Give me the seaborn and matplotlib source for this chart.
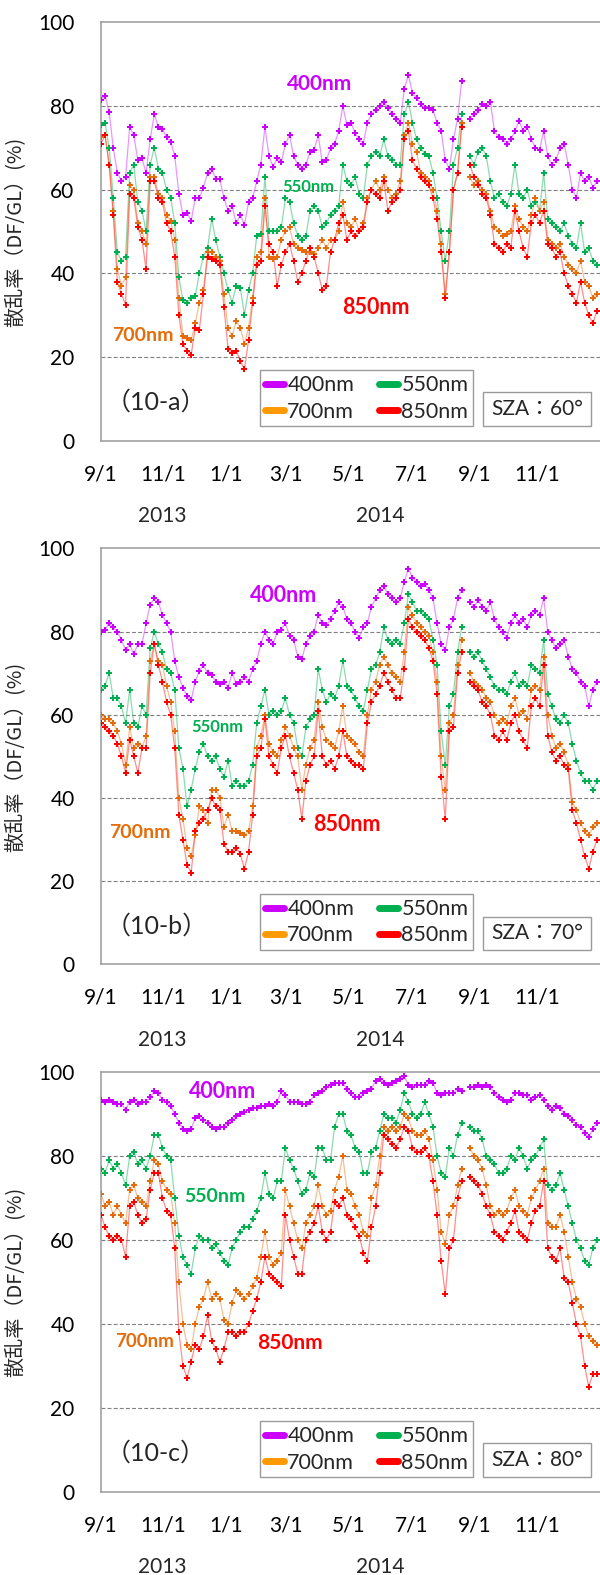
import numpy as np
import pandas as pd
import matplotlib
matplotlib.use("Agg")
import matplotlib.pyplot as plt
import matplotlib.dates as mdates
from matplotlib.lines import Line2D
from matplotlib.patches import Rectangle
from matplotlib.ticker import FuncFormatter
import seaborn as sns

sns.set_theme(style="white")
plt.rcParams["font.family"] = ["Lato", "Noto Sans CJK JP", "DejaVu Sans"]

nan = np.nan

# sampling dates (every 4 days), 2013-09-01 .. 2014-12-29
dates = pd.date_range("2013-09-01", periods=122, freq="4D")

wavelengths = ["400nm", "550nm", "700nm", "850nm"]

# ---- SZA 60 deg ----
a_400 = [81.5, 82.5, 78.5, 70, 64, 62, 63, 75, 73, 67,
         67.5, 64, 72, 78, 75, 74.5, 72.5, 71.5, 68, 59,
         54, 54.5, 52.5, 58, 58, 60.5, 64, 65, 62.5, 62.5,
         58, 55, 56, 52, 54, 51.5, 57, 58, 62, 66,
         75, 68, 65.5, 67.5, 66.5, 71, 73, 68, 66, 65,
         66, 69, 69.5, 73, 66.5, 67, 70, 71, 74, 80,
         75.5, 76, 73.5, 72, 71, 76, 78, 79, 80, 81,
         79.5, 78, 77, 76, 84, 87.5, 83, 82, 80.5, 79.5,
         79.5, 79, 76, 74, 67, 65, 72, 77, 86, nan,
         77, 78, 79, 80.5, 80, 81, 74, 72.5, 72, 71,
         72, 74, 76.5, 74, 75, 72, 70, 69.5, 74, 68,
         66, 67, 70, 71, 66, 60, 58, 64, 62, 63,
         60.5, 62]
a_550 = [75.5, 76, 70, 58, 45, 43, 44, 64, 66, 57,
         55, 50, 66, 70, 65, 64, 60, 58, 52, 39,
         33.5, 33, 34, 34.5, 40, 44, 46, 53, 48, 44,
         40, 36, 33, 37, 36.5, 30, 36, 40, 49, 49.5,
         63, 50, 50, 50, 51, 58, 57, 52, 49, 48,
         49, 55, 56, 55, 51, 52, 54, 55, 56, 66,
         62, 61, 63, 59, 58, 66, 68, 69, 68, 72,
         68, 67, 66, 66, 78, 81, 76, 72, 70, 68.5,
         68, 64, 58, 50, 43, 50, 66, 70, 78, nan,
         68, 66, 69, 70, 68, 62, 58, 59, 57, 56,
         59, 66, 59, 58, 60, 56, 57, 55, 64, 53,
         52, 51, 50, 52, 49, 47, 46, 52, 45, 46,
         43, 42]
a_700 = [72.5, 73, 66, 55, 41, 37, 39, 61, 60, 52,
         50, 47, 63, 63, 59, 58, 54, 52.5, 48, 34,
         25, 24.5, 24, 28, 33, 36, 45, 45, 44, 43,
         35, 27, 25, 28.5, 27, 23, 27, 34, 44, 45,
         58, 44, 43.5, 44, 48, 50, 51, 47, 46, 45.5,
         45, 45, 44.5, 46, 48, 46, 48, 48, 50, 57,
         52, 51, 53, 50, 52, 58, 60, 62, 60, 63,
         60, 58, 59, 62, 73, 76, 71, 69, 64, 63,
         62, 60, 55, 47, 35, 45, 60, 64, 76, nan,
         63, 61, 62, 60, 59, 55, 51, 50, 49, 49.5,
         50, 56, 53, 51, 50, 54, 58, 55, 57, 48,
         47, 46, 47, 44, 42, 41, 40, 43, 38, 37,
         34, 35]
a_850 = [71, 73, 66, 54, 38, 35, 32.5, 59, 58, 51,
         48, 41, 62, 62, 58, 57, 52, 50, 44, 30,
         23, 21.5, 20.5, 27, 26.5, 35, 44, 43.5, 43, 42,
         32, 22, 21, 21.5, 19, 17, 24, 33, 42, 43,
         56, 47, 45, 37, 42, 45, 47, 43, 38, 40,
         43, 46, 44, 40, 36, 37, 45, 48, 52, 54,
         48, 50, 49, 50, 51, 57, 60, 59, 58, 62,
         55, 57, 58, 60, 72, 74, 67, 65, 63, 62,
         61, 58, 53, 45, 34, 45, 60, 64, 75, nan,
         66, 63, 61, 59, 58, 54, 47, 46, 45, 47,
         46, 55, 50, 46, 44, 52, 54, 52, 55, 47,
         46, 44, 45, 40, 37, 35, 33, 38, 33, 30,
         28, 31]

# ---- SZA 70 deg ----
b_400 = [79.8, 80.5, 82, 81, 80, 78, 75.5, 77, 74.5, 77,
         77, 82, 86.5, 88, 87, 84, 82, 80, 73, 69,
         66.5, 64.5, 63.5, 68, 70.5, 72, 70, 69.5, 68, 67.5,
         68, 66.5, 70, 67.5, 68, 69, 68, 71, 73, 77,
         80, 78, 77, 80, 80.5, 82, 79, 78, 74, 73.5,
         77, 79, 80, 84, 82, 81.5, 83, 85, 87, 86,
         83, 82, 80, 78.5, 81, 82, 86, 88, 90, 91,
         89, 88, 87, 88, 92, 95, 93, 92, 91, 91.5,
         90, 88, 82, 77, 75.5, 81, 83, 88, 90, nan,
         87, 86, 87.5, 86, 85, 87, 83, 81, 80, 78.5,
         82, 84, 82, 83, 81, 84, 85, 84, 88, 80,
         78, 76, 77, 78, 74, 71, 70, 68, 67, 62,
         66, 68]
b_550 = [66, 67, 70, 64, 64, 62, 58, 66, 58, 57,
         62, 60, 76, 80, 77, 75, 71, 70, 66, 52,
         47, 38, 42, 47, 51, 53, 50, 49, 50, 47,
         45, 49, 43, 44, 43, 43, 44, 48, 58, 62,
         66, 60, 61, 60, 61, 64, 60, 58, 52, 50,
         57, 59, 60, 71, 66, 63, 65, 64, 67, 73,
         67, 66, 64, 62, 61, 66, 71, 72, 75, 81,
         78, 77, 78, 77, 82, 89, 87, 85, 85, 84,
         83, 78, 72, 56, 48, 62, 65, 75, 81, nan,
         75, 74, 75, 73, 71, 69, 67, 66, 66, 65,
         68, 70, 67, 68, 67, 72, 71, 70, 78, 65,
         62, 59, 58, 60, 58, 53, 49, 46, 44, 44,
         42, 44]
b_700 = [60, 59, 59, 58, 56, 53, 48, 57, 52, 53,
         52, 55, 73, 77, 73, 72, 67, 63, 56, 40,
         35, 28, 26, 31, 38, 37, 34, 42, 42, 40,
         33, 36, 32, 32, 31.5, 31, 32, 38, 52, 55,
         60, 53, 51, 50, 54, 57, 55, 52, 50, 42,
         48, 52, 54, 63, 57, 54, 53, 52, 56, 62,
         55, 54, 53, 51, 50, 60, 66, 68, 72, 74,
         72, 70, 69, 68, 75, 86, 84, 82, 81, 80,
         79, 75, 68, 50, 42, 58, 60, 72, 78, nan,
         70, 68, 67, 66, 64, 63, 60, 58, 59, 58,
         62, 64, 60, 61, 59, 66, 67, 66, 74, 60,
         55, 52, 53, 51, 48, 39, 37, 34, 32, 31,
         33, 34]
b_850 = [58, 57, 56, 55, 53, 50, 46, 54, 50, 46,
         52, 52, 70, 77, 72, 68, 63, 60, 52, 36,
         30, 24, 22, 32, 34, 35, 37, 40, 38, 37,
         29, 27, 27, 28, 26.5, 23, 27, 36, 50, 52,
         59, 50, 48, 46, 52, 55, 50, 46, 42, 35,
         44, 48, 50, 61, 50, 48, 49, 47, 50, 56,
         50, 49, 48, 48, 47, 58, 63, 65, 67, 70,
         68, 66, 64, 64, 71, 83, 81, 80, 79, 78,
         76, 73, 65, 45, 35, 56, 57, 70, 75, nan,
         68, 67, 66, 63, 62, 60, 55, 54, 56, 54,
         58, 60, 56, 54, 52, 62, 64, 62, 72, 55,
         51, 49, 50, 48, 47, 37, 34, 30, 26, 23,
         27, 30]

# ---- SZA 80 deg ----
c_400 = [93.5, 93, 93.5, 93, 92.5, 92.5, 91, 93, 93.5, 92.5,
         93, 93, 94, 95.5, 95, 93.5, 93, 92, 90, 88,
         86.5, 86, 86.5, 89, 89.5, 88.5, 88, 87, 86.5, 87,
         87, 88, 88.5, 89.5, 90, 90.5, 91, 91.5, 91.5, 92,
         92, 92.5, 92, 93, 95.5, 94.5, 93, 93, 93, 92.5,
         92.5, 93, 94.5, 95, 95.5, 96.5, 97, 97.5, 97.5, 97.5,
         96, 95, 94, 94, 95, 95.5, 96, 98, 98.5, 97.5,
         97, 97.5, 98, 98.5, 99, 97, 96.5, 97, 97, 97,
         98, 97.5, 95, 94.5, 95, 95, 95, 96, 95.5, nan,
         96.5, 96.5, 97, 96.5, 97, 96.5, 95, 94, 93.5, 93,
         93.5, 95, 95, 94.5, 94.5, 93.5, 94, 94.5, 93.5, 92,
         91, 92, 91.5, 90, 89.5, 88.5, 87.5, 87, 85.5, 84.5,
         86.5, 88]
c_550 = [77, 76, 79, 77, 78, 76, 73, 80, 81, 78,
         79, 77, 80, 85, 85, 82, 80, 79, 70, 61,
         56, 54, 52, 58, 61, 60, 60, 58, 59, 57,
         55, 54, 58, 60, 62, 63, 63, 65, 67, 70,
         76, 71, 70, 74, 74, 82, 79, 77, 74, 71,
         72, 76, 75, 82, 82, 79, 79, 87, 90, 90,
         86, 85, 82, 81, 76, 76, 81, 82, 86, 90,
         89, 89, 88, 91, 95, 93, 90, 89, 90, 93,
         90, 87, 80, 76, 75, 82, 80, 85, 88, nan,
         87, 86, 86, 84, 80, 79, 78, 76, 76, 77,
         80, 79, 82, 80, 77, 79, 80, 82, 84, 73,
         72, 73, 76, 72, 68, 64, 60, 58, 55, 54,
         58, 60]
c_700 = [71, 68, 69, 66, 68, 66, 64, 72, 73, 70,
         69, 68, 74, 79, 78, 74, 72, 71, 64, 50,
         40, 35, 34, 40, 44, 46, 50, 46, 47, 46,
         41, 40, 45, 48, 47, 46, 47, 49, 51, 56,
         62, 56, 54, 55, 57, 72, 68, 64, 60, 58,
         64, 66, 68, 73, 68, 66, 67, 72, 75, 80,
         72, 71, 68, 66, 62, 61, 70, 73, 80, 87,
         86, 87, 86, 87, 90, 89, 86, 85, 85, 86,
         84, 79, 72, 62, 59, 66, 68, 73, 77, nan,
         82, 80, 79, 77, 73, 68, 66, 67, 66, 67,
         70, 72, 68, 67, 66, 70, 72, 74, 77, 64,
         63, 63, 66, 62, 56, 50, 46, 44, 40, 37,
         36, 35]
c_850 = [66, 63, 61, 60, 61, 60, 56, 68, 69, 66,
         64, 65, 72, 76, 76, 70, 67, 66, 58, 38,
         30, 27, 31, 35, 34, 37, 42, 36, 34, 31,
         34, 38, 38, 37, 38, 38, 40, 43, 46, 50,
         56, 52, 51, 50, 49, 66, 60, 56, 52, 52,
         60, 62, 64, 68, 62, 60, 62, 69, 68, 70,
         66, 65, 63, 61, 57, 55, 63, 68, 76, 85,
         84, 83, 82, 84, 87, 86, 82, 81, 81, 82,
         80, 74, 66, 55, 47, 58, 60, 70, 74, nan,
         75, 74, 73, 71, 68, 66, 62, 61, 60, 62,
         64, 67, 62, 61, 60, 64, 67, 68, 74, 58,
         56, 55, 58, 51, 50, 45, 40, 37, 30, 25,
         28, 28]

panel_tags = ["（10-a）", "（10-b）", "（10-c）"]
sza_labels = ["SZA：60°", "SZA：70°", "SZA：80°"]
year_labels = ["2013", "2014"]
panel_series = [
    [a_400, a_550, a_700, a_850],
    [b_400, b_550, b_700, b_850],
    [c_400, c_550, c_700, c_850],
]

marker_colors = {"400nm": "#CC00FF", "550nm": "#00B050",
                 "700nm": "#E46C0A", "850nm": "#FF0000"}
line_colors = {"400nm": "#D640FF", "550nm": "#2DBE6C",
               "700nm": "#F08A3C", "850nm": "#FF3030"}
legend_colors = {"400nm": "#CC00FF", "550nm": "#00B050",
                 "700nm": "#FF9900", "850nm": "#FF0000"}

# inline series labels: (x, y) in axes fraction, font size
inline_labels = [
    {"400nm": (0.439, 0.853, 15), "550nm": (0.415, 0.607, 12),
     "700nm": (0.083, 0.252, 14), "850nm": (0.551, 0.317, 15.5)},
    {"400nm": (0.365, 0.888, 15.5), "550nm": (0.234, 0.570, 12),
     "700nm": (0.078, 0.316, 14), "850nm": (0.493, 0.337, 15.5)},
    {"400nm": (0.244, 0.953, 15.5), "550nm": (0.229, 0.703, 14),
     "700nm": (0.088, 0.357, 13.5), "850nm": (0.378, 0.354, 15)},
]

# axes rectangles in figure fraction (left, bottom, width, height)
axes_rects = [
    (0.1683, 0.7203, 0.8317, 0.2655),
    (0.1683, 0.3877, 0.8317, 0.2641),
    (0.1683, 0.0530, 0.8317, 0.2662),
]

frame_gray = "#9A9A9A"


def month_label(x, pos):
    d = mdates.num2date(x)
    if d.year < 2015 and d.month in (9, 11, 1, 3, 5, 7):
        return f"{d.month}/1"
    return ""


fig = plt.figure(figsize=(6.0, 15.75), dpi=100)

for p in range(3):
    ax = fig.add_axes(axes_rects[p])
    ax.set_facecolor("white")

    for wl, vals in zip(wavelengths, panel_series[p]):
        df = pd.DataFrame({"date": dates, "value": vals})
        df["seg"] = df["value"].isna().cumsum()
        df = df.dropna()
        sns.lineplot(data=df, x="date", y="value", units="seg", estimator=None,
                     color=line_colors[wl], lw=0.9, alpha=0.55, ax=ax,
                     legend=False, zorder=2)
        sns.scatterplot(data=df, x="date", y="value", color=marker_colors[wl],
                        marker="P", s=16, linewidth=0, ax=ax, legend=False,
                        zorder=3)

    ax.set_xlim(pd.Timestamp("2013-09-01"), pd.Timestamp("2015-01-01"))
    ax.set_ylim(0, 100)
    ax.set_xlabel("")
    ax.set_ylabel("散乱率（DF/GL）(%)", fontsize=14.5,
                  family=["Noto Sans CJK JP"])
    ax.yaxis.set_label_coords(-0.150, 0.5)

    ax.set_yticks([0, 20, 40, 60, 80, 100])
    ax.tick_params(axis="y", length=0, pad=19, labelsize=15, colors="black")
    ax.xaxis.set_major_locator(mdates.MonthLocator())
    ax.xaxis.set_major_formatter(FuncFormatter(month_label))
    ax.tick_params(axis="x", direction="in", length=6, width=1,
                   color=frame_gray, pad=17, labelsize=15, labelcolor="black")

    for y in (20, 40, 60, 80):
        ax.axhline(y, color="#7F7F7F", lw=0.8, linestyle=(0, (3.5, 2)),
                   zorder=1)

    for side in ("top", "left", "bottom"):
        ax.spines[side].set_visible(True)
        ax.spines[side].set_color(frame_gray)
        ax.spines[side].set_linewidth(1.1)
    ax.spines["right"].set_visible(False)

    # year captions under the month labels
    ax.text(0.122, -0.181, year_labels[0], transform=ax.transAxes,
            ha="center", va="center", fontsize=15)
    ax.text(0.559, -0.181, year_labels[1], transform=ax.transAxes,
            ha="center", va="center", fontsize=15)

    # inline wavelength labels
    for wl, (lx, ly, fs) in inline_labels[p].items():
        ax.text(lx, ly, wl, transform=ax.transAxes, ha="center", va="center",
                fontsize=fs, fontweight="bold", color=marker_colors[wl],
                zorder=5)

    # panel tag
    ax.text(0.010, 0.092, panel_tags[p], transform=ax.transAxes, ha="left",
            va="center", fontsize=18, zorder=5)

    # legend: rows 400/550 and 700/850 (matplotlib fills column by column)
    order = ["400nm", "700nm", "550nm", "850nm"]
    handles = [Line2D([], [], color=legend_colors[wl], lw=5) for wl in order]
    leg = ax.legend(handles, order, ncol=2, loc="lower left",
                    bbox_to_anchor=(0.3186, 0.034, 0.427, 0.134),
                    mode="expand", borderaxespad=0, fontsize=15.5,
                    handlelength=0.9, handletextpad=0.15,
                    columnspacing=0.8, labelspacing=0.3, borderpad=0.22,
                    frameon=True, fancybox=False, framealpha=1)
    leg.get_frame().set_edgecolor(frame_gray)
    leg.get_frame().set_linewidth(1.0)
    leg.set_zorder(6)

    # solar zenith angle box
    ax.add_patch(Rectangle((0.7655, 0.034), 0.2165, 0.081,
                           transform=ax.transAxes, facecolor="white",
                           edgecolor=frame_gray, lw=1.0, zorder=6))
    ax.text(0.8738, 0.0745, sza_labels[p], transform=ax.transAxes,
            ha="center", va="center", fontsize=15, zorder=7)

fig.savefig("out.png", dpi=100)
